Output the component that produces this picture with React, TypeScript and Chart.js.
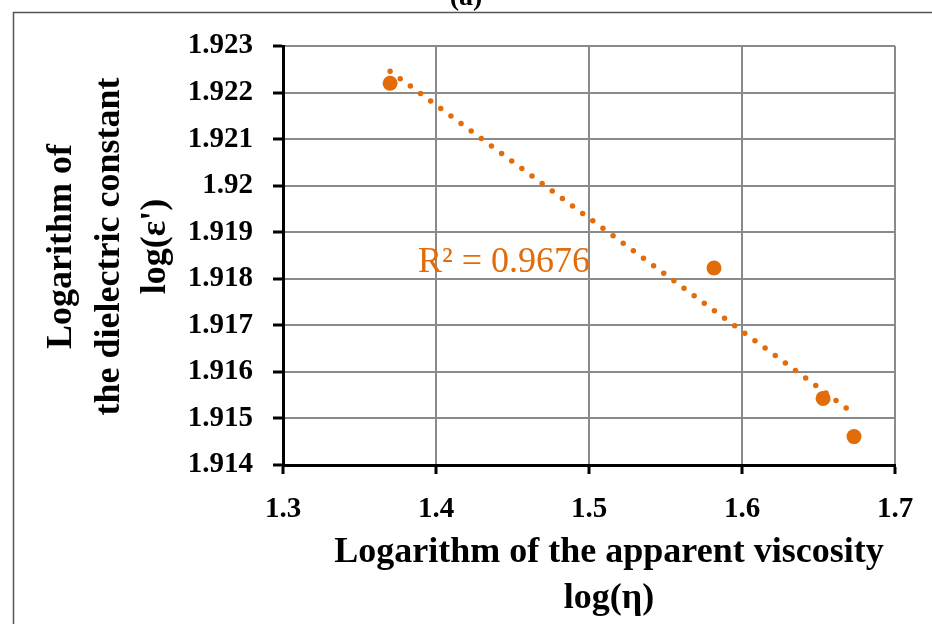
import React, { useEffect, useRef } from "react";
import { Chart, registerables } from "chart.js";

Chart.register(...registerables);

// ---- data ----
const viscosityLog = [1.370, 1.5817, 1.653, 1.6732];
const dielectricLog = [1.9222, 1.91823, 1.91543, 1.91461];
const trendX = [1.370, 1.6732];
const trendY = [1.92246, 1.9151];
const xTicks = [1.3, 1.4, 1.5, 1.6, 1.7];
const xTickLabels = ["1.3", "1.4", "1.5", "1.6", "1.7"];
const yTicks = [1.914, 1.915, 1.916, 1.917, 1.918, 1.919, 1.92, 1.921, 1.922, 1.923];
const yTickLabels = ["1.914", "1.915", "1.916", "1.917", "1.918", "1.919", "1.92", "1.921", "1.922", "1.923"];
const xTitleLines = ["Logarithm of the apparent viscosity", "log(η)"];
const yTitleLines = ["Logarithm of", "the dielectric constant", "log(ε')"];
const r2Label = "R² = 0.9676";
const r2Pos = { x: 1.4444, y: 1.91814 };
const panelLabel = "(a)";

const ORANGE = "#E36C0A";
const SERIF = "'Liberation Serif', 'DejaVu Serif', serif";

const overlayPlugin = {
  id: "overlay",
  afterDraw(chart: any) {
    const { ctx, chartArea, scales } = chart;
    ctx.save();
    // outer frame
    ctx.strokeStyle = "#555";
    ctx.lineWidth = 1.5;
    ctx.beginPath();
    ctx.moveTo(13.5, 624);
    ctx.lineTo(13.5, 12.5);
    ctx.lineTo(932, 12.5);
    ctx.stroke();
    // panel label (cut at top)
    ctx.fillStyle = "#000";
    ctx.font = `bold 28px ${SERIF}`;
    ctx.textAlign = "center";
    ctx.textBaseline = "alphabetic";
    ctx.fillText(panelLabel, 466, 5);
    // R² label
    ctx.fillStyle = ORANGE;
    ctx.font = `36px ${SERIF}`;
    ctx.textAlign = "center";
    ctx.fillText(r2Label, scales.x.getPixelForValue(r2Pos.x), scales.y.getPixelForValue(r2Pos.y));
    // x title
    ctx.fillStyle = "#000";
    ctx.font = `bold 36px ${SERIF}`;
    const xc = (chartArea.left + chartArea.right) / 2 + 20;
    ctx.fillText(xTitleLines[0], xc, 562);
    ctx.fillText(xTitleLines[1], xc, 608);
    // y title
    const yc = (chartArea.top + chartArea.bottom) / 2 - 9;
    const cols = [71, 119, 165];
    yTitleLines.forEach((t, i) => {
      ctx.save();
      ctx.translate(cols[i], yc);
      ctx.rotate(-Math.PI / 2);
      ctx.fillText(t, 0, 0);
      ctx.restore();
    });
    ctx.restore();
  },
};

export default function App() {
  const ref = useRef<HTMLCanvasElement | null>(null);
  useEffect(() => {
    document.body.style.margin = "0";
    const canvas = ref.current!;
    const chart = new Chart(canvas, {
      type: "scatter",
      data: {
        datasets: [
          {
            data: viscosityLog.map((x, i) => ({ x, y: dielectricLog[i] })),
            backgroundColor: ORANGE,
            borderColor: ORANGE,
            pointRadius: 7.5,
            pointBorderWidth: 0,
          },
          {
            data: trendX.map((x, i) => ({ x, y: trendY[i] })),
            showLine: true,
            borderColor: ORANGE,
            borderWidth: 5.5,
            borderDash: [0, 12.6],
            borderCapStyle: "round",
            pointRadius: 0,
            fill: false,
          } as any,
        ],
      },
      options: {
        animation: false,
        responsive: false,
        devicePixelRatio: 1,
        layout: { padding: { left: 0, right: 37, top: 46, bottom: 0 } },
        plugins: { legend: { display: false }, tooltip: { enabled: false } },
        scales: {
          x: {
            type: "linear",
            min: 1.3,
            max: 1.7,
            afterBuildTicks: (s: any) => {
              s.ticks = xTicks.map((v) => ({ value: v }));
            },
            afterFit: (s: any) => {
              s.height = 159;
            },
            ticks: {
              autoSkip: false,
              maxRotation: 0,
              padding: 18,
              color: "#000",
              font: { family: SERIF, size: 29, weight: "bold" },
              callback: (_v: any, i: number) => xTickLabels[i],
            },
            grid: {
              color: "#8a8a8a",
              lineWidth: 2,
              tickColor: "#000",
              tickWidth: 3,
              tickLength: 9,
            },
            border: { color: "#000", width: 3 },
          },
          y: {
            type: "linear",
            min: 1.914,
            max: 1.923,
            afterBuildTicks: (s: any) => {
              s.ticks = yTicks.map((v) => ({ value: v }));
            },
            afterFit: (s: any) => {
              s.width = 283;
            },
            ticks: {
              autoSkip: false,
              padding: 20,
              color: "#000",
              font: { family: SERIF, size: 29, weight: "bold" },
              callback: (_v: any, i: number) => yTickLabels[i],
            },
            grid: {
              color: "#8a8a8a",
              lineWidth: 2,
              tickColor: "#000",
              tickWidth: 3,
              tickLength: 10,
            },
            border: { color: "#000", width: 3 },
          },
        },
      } as any,
      plugins: [overlayPlugin],
    });
    return () => chart.destroy();
  }, []);
  return (
    <div style={{ position: "absolute", left: 0, top: 0, width: 932, height: 624, background: "#fff" }}>
      <canvas ref={ref} width={932} height={624} style={{ display: "block" }} />
    </div>
  );
}
